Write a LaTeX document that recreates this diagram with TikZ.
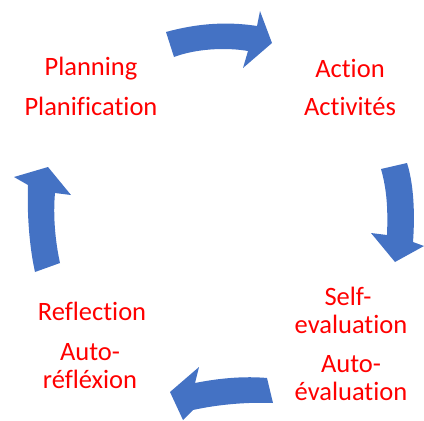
\documentclass[tikz,border=0pt]{standalone}
\usepackage{fontspec}
\setmainfont[Ligatures=NoCommon]{Carlito}
\definecolor{arrowblue}{HTML}{4472C4}
\definecolor{labelred}{HTML}{FF0000}
\begin{document}
\begin{tikzpicture}[x=1pt,y=-1pt,
  lbl/.style={anchor=base,inner sep=0pt,text=labelred,font=\fontsize{26.5}{30}\selectfont},
  bigarrow/.style={fill=arrowblue,draw=none}]
\useasboundingbox (0,0) rectangle (424,421);
% top arrow
\fill[bigarrow] (166,32) .. controls (195,24) and (225,21) .. (257,26) -- (260,11) -- (272,43) -- (243,68) -- (248,51) .. controls (225,47) and (195,49) .. (174,57) -- cycle;
% right arrow
\fill[bigarrow] (381,169) -- (407,163) .. controls (414,185) and (415,215) .. (413,242) -- (424,246) -- (395,262) -- (371,233) -- (387,235) .. controls (388,210) and (387,190) .. (381,169) -- cycle;
% bottom arrow
\fill[bigarrow] (267,378) .. controls (245,376) and (220,378) .. (195,383) -- (199,367) -- (170,392) -- (183,420) -- (193,410) .. controls (220,404) and (250,402) .. (273,403) -- cycle;
% left arrow
\fill[bigarrow] (35,272) .. controls (29,245) and (27,212) .. (28,185) -- (14,177) -- (48,167) -- (71,195) -- (55,193) .. controls (53,215) and (55,240) .. (60,263) -- cycle;
% labels
\node[lbl] (plan1) at (91,75) {Planning};
\node[lbl] (plan2) at (91,115) {Planification};
\node[lbl] (act1) at (350,77) {Action};
\node[lbl] (act2) at (350,115) {Activités};
\node[lbl] (self1) at (348,305) {Self-};
\node[lbl] (self2) at (351,333) {evaluation};
\node[lbl] (self3) at (351,372) {Auto-};
\node[lbl] (self4) at (351,400) {évaluation};
\node[lbl] (ref1) at (92,320) {Reflection};
\node[lbl] (ref2) at (90,360) {Auto-};
\node[lbl] (ref3) at (90,388) {réfléxion};
\end{tikzpicture}
\end{document}
